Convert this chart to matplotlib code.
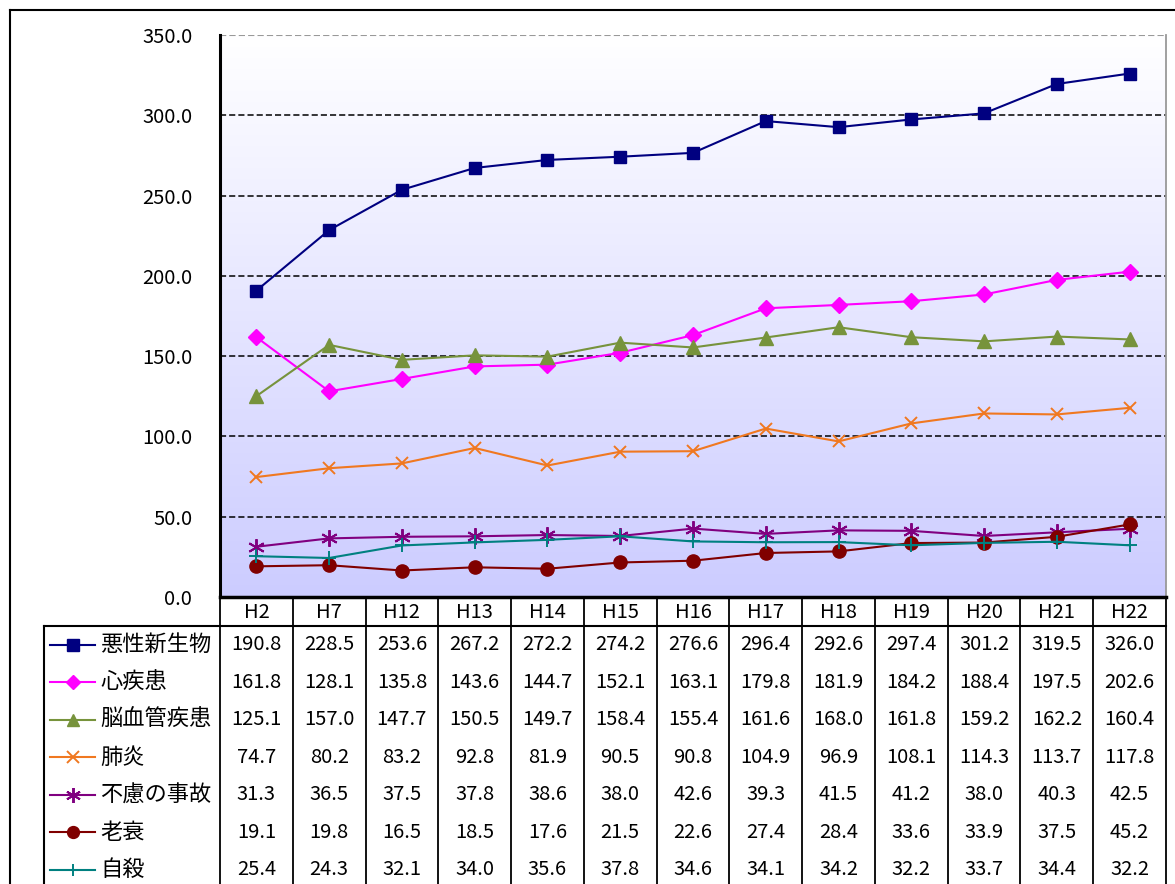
import numpy as np
import matplotlib
matplotlib.use("Agg")
import matplotlib.pyplot as plt
from matplotlib.colors import LinearSegmentedColormap

plt.rcParams['font.family'] = ['Noto Sans CJK JP', 'DejaVu Sans']

# ---- data ----
years = ["H2", "H7", "H12", "H13", "H14", "H15", "H16", "H17", "H18", "H19", "H20", "H21", "H22"]
names = ["悪性新生物", "心疾患", "脳血管疾患", "肺炎", "不慮の事故", "老衰", "自殺"]
cancer = [190.8, 228.5, 253.6, 267.2, 272.2, 274.2, 276.6, 296.4, 292.6, 297.4, 301.2, 319.5, 326.0]
heart = [161.8, 128.1, 135.8, 143.6, 144.7, 152.1, 163.1, 179.8, 181.9, 184.2, 188.4, 197.5, 202.6]
stroke = [125.1, 157.0, 147.7, 150.5, 149.7, 158.4, 155.4, 161.6, 168.0, 161.8, 159.2, 162.2, 160.4]
pneumonia = [74.7, 80.2, 83.2, 92.8, 81.9, 90.5, 90.8, 104.9, 96.9, 108.1, 114.3, 113.7, 117.8]
accident = [31.3, 36.5, 37.5, 37.8, 38.6, 38.0, 42.6, 39.3, 41.5, 41.2, 38.0, 40.3, 42.5]
senility = [19.1, 19.8, 16.5, 18.5, 17.6, 21.5, 22.6, 27.4, 28.4, 33.6, 33.9, 37.5, 45.2]
suicide = [25.4, 24.3, 32.1, 34.0, 35.6, 37.8, 34.6, 34.1, 34.2, 32.2, 33.7, 34.4, 32.2]
series = [cancer, heart, stroke, pneumonia, accident, senility, suicide]

colors = ["#000080", "#FF00FF", "#77933C", "#F07820", "#800080", "#800000", "#008080"]
markers = ["s", "D", "^", "x", (6, 2, 0), "o", "+"]
msizes = [9, 8, 10, 9, 12, 9.5, 10]

W, H = 1175, 884
fig = plt.figure(figsize=(W / 100, H / 100), dpi=100)

# plot area in pixels
L, T, R, B = 220, 35, 1166, 597
ax = fig.add_axes([L / W, (H - B) / H, (R - L) / W, (B - T) / H])
x = np.arange(len(years))
ax.set_xlim(-0.5, len(years) - 0.5)
ax.set_ylim(0, 350)

cmap = LinearSegmentedColormap.from_list("bg", ["#CCCCFF", "#FFFFFF"])
ax.imshow(np.linspace(0, 1, 256).reshape(-1, 1), cmap=cmap, origin="lower",
          extent=[-0.5, len(years) - 0.5, 0, 350], aspect="auto", zorder=0)

for yv in range(50, 301, 50):
    ax.axhline(yv, color="black", lw=1.1, ls=(0, (4, 2)), zorder=1)
ax.axhline(350, color="#999999", lw=1.5, ls=(0, (3, 1.5)), zorder=1)

for s, c, m, ms in zip(series, colors, markers, msizes):
    mew = 1.4 if m in ("x", "+") or isinstance(m, tuple) else 1
    ax.plot(x, s, color=c, lw=1.5, marker=m, ms=ms, mew=mew, zorder=3, clip_on=False)

ax.spines["top"].set_visible(False)
ax.spines["left"].set_linewidth(2.2)
ax.spines["bottom"].set_linewidth(2.5)
ax.spines["right"].set_color("#999999")
ax.spines["right"].set_linewidth(1.3)
ax.set_yticks(range(0, 351, 50))
ax.set_yticklabels(["%.1f" % v for v in range(0, 351, 50)], fontsize=14.5)
ax.tick_params(axis="y", length=0, pad=20)
ax.set_xticks([])

# ---- data table (overlay in pixel coords) ----
ov2 = fig.add_axes([0, 0, 1, 1])
ov2.set_xlim(0, W)
ov2.set_ylim(H, 0)
ov2.axis("off")
ov2.patch.set_alpha(0)

cw = (R - L) / len(years)
hdr_bot = 626
row_h = 37.5
# outer frame
ov2.plot([10, W], [10, 10], color="black", lw=1.5)
ov2.plot([10, 10], [10, H], color="black", lw=1.5)
# table grid
for k in range(len(years) + 1):
    ov2.plot([L + k * cw] * 2, [B, H], color="black", lw=1.3)
ov2.plot([44, R], [hdr_bot, hdr_bot], color="black", lw=1.5)
ov2.plot([44, 44], [hdr_bot, H], color="black", lw=1.5)

for i, yr in enumerate(years):
    ov2.text(L + (i + 0.5) * cw, (B + hdr_bot) / 2 + 1, yr, ha="center", va="center", fontsize=14.5)

for r, (nm, s, c, m, ms) in enumerate(zip(names, series, colors, markers, msizes)):
    yc = hdr_bot + (r + 0.5) * row_h
    mew = 1.4 if m in ("x", "+") or isinstance(m, tuple) else 1
    ov2.plot([50, 95], [yc, yc], color=c, lw=1.5)
    ov2.plot([73], [yc], color=c, marker=m, ms=ms * 0.9, mew=mew)
    ov2.text(100, yc, nm, ha="left", va="center", fontsize=16)
    for i, v in enumerate(s):
        ov2.text(L + (i + 0.5) * cw, yc, "%.1f" % v, ha="center", va="center", fontsize=14.5)

fig.savefig("out.png", dpi=100)
